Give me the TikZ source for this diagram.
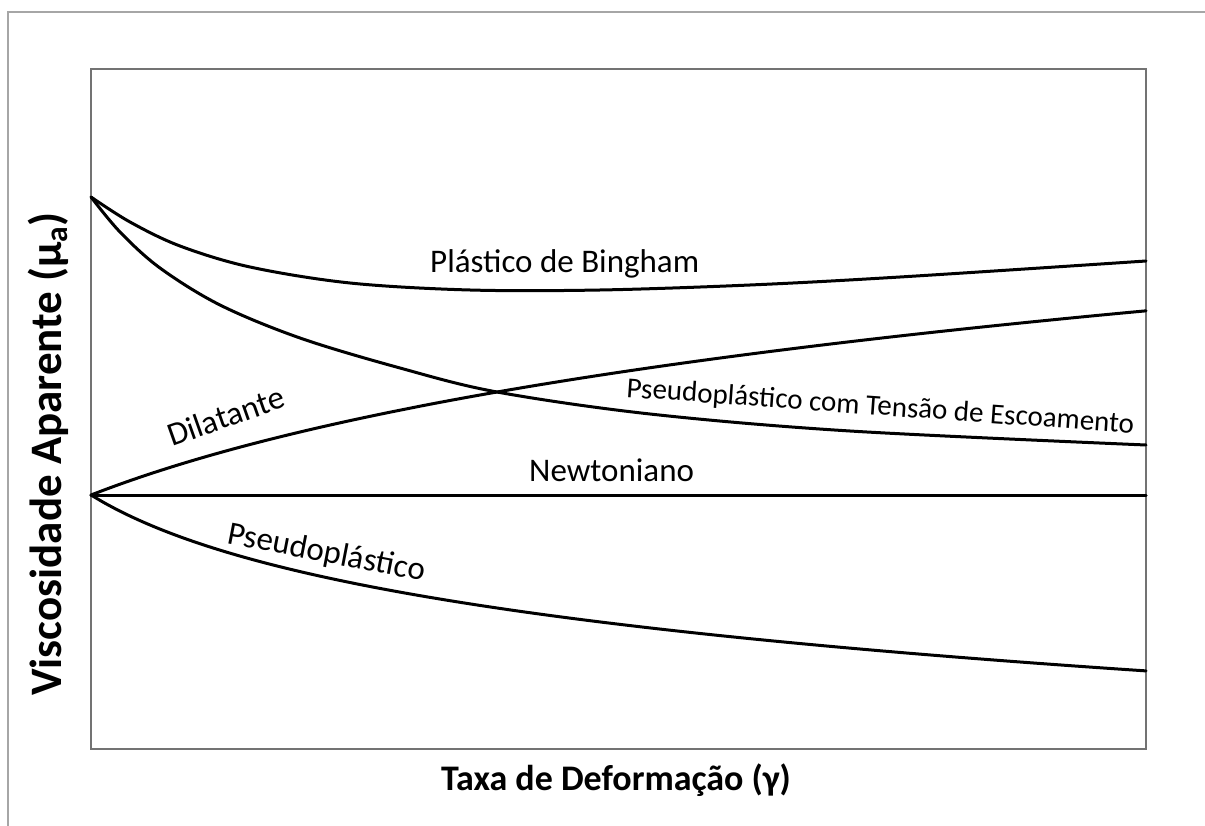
\documentclass[tikz,border=0pt]{standalone}
\usepackage{fontspec}
\setmainfont{Carlito}
\begin{document}
\begin{tikzpicture}[x=1pt,y=-1pt,
  curve/.style={line width=3pt,black,line join=round,line cap=round},
  lbl/.style={font=\fontsize{33}{36}\selectfont, inner sep=0pt, anchor=base west},
  smalllbl/.style={font=\fontsize{29}{32}\selectfont, inner sep=0pt, anchor=base west},
  xlblstyle/.style={font=\bfseries\fontsize{36}{40}\selectfont, inner sep=0pt},
  ylblstyle/.style={font=\bfseries\fontsize{45}{50}\selectfont, inner sep=0pt}]
\useasboundingbox (0,0) rectangle (1205,826);
\fill[white] (0,0) rectangle (1205,826);
% outer frame
\draw[line width=1.5pt, black!35] (8,830) -- (8,12) -- (1210,12);
% plot frame
\draw[line width=2pt, black!55] (91,69) rectangle (1146,749);
% Plastico de Bingham
\draw[curve] plot[smooth, tension=0.55] coordinates {(91,197) (130,222) (180,246) (250,267) (350,283) (470,290) (600,290) (750,285) (900,277) (1146,261)};
% Pseudoplastico com tensao de escoamento
\draw[curve] plot[smooth, tension=0.55] coordinates {(91,197) (120,232) (160,268) (220,305) (300,338) (400,368) (497,392) (650,414) (850,431) (1146,445)};
% Dilatante
\draw[curve] plot[domain=0:1055, samples=80, smooth] ({91+\x}, {495-128.4*ln(1+\x/330)});
% Newtoniano
\draw[curve] (91,495) -- (1146,495);
% Pseudoplastico
\draw[curve] plot[domain=0:1055, samples=80, smooth] ({91+\x}, {495+79.1*ln(1+\x/128)});
% labels
\node[lbl] (bingham) at (430,273) {Plástico de Bingham};
\node[smalllbl, rotate=-4.1] (pct) at (626,397) {Pseudoplástico com Tensão de Escoamento};
\node[lbl, rotate=19.5] (dil) at (172,447) {Dilatante};
\node[lbl] (newt) at (529,481) {Newtoniano};
\node[lbl, rotate=-11] (pseudo) at (226,543) {Pseudoplástico};
\node[xlblstyle, anchor=base] (xlab) at (616,790) {Taxa de Deformação (γ)};
\node[ylblstyle, rotate=90, anchor=base east] (ylab) at (61,212) {Viscosidade Aparente (μ\textsubscript{a})};
\end{tikzpicture}
\end{document}
